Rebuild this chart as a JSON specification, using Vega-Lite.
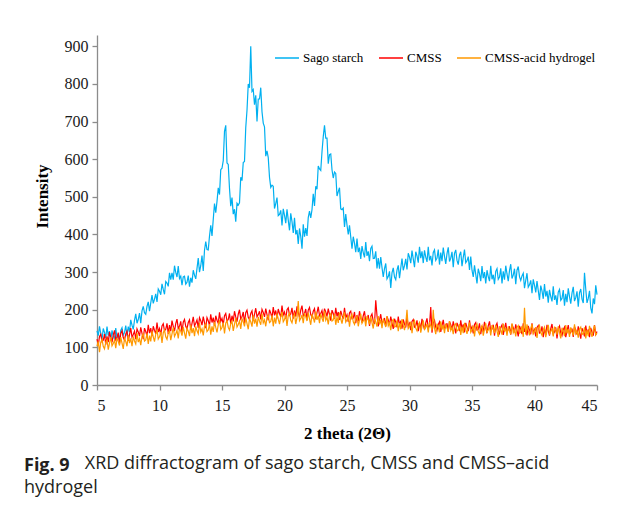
{
"$schema": "https://vega.github.io/schema/vega-lite/v6.json",
"width": 500, "height": 350,
"autosize": {"type": "none"},
"padding": {"left": 97, "top": 35, "right": 31, "bottom": 121},
"background": "white",
"data": {"values": [
{"t":5.0,"s":144,"c":122,"h":103},{"t":5.1,"s":131,"c":105,"h":116},{"t":5.2,"s":156,"c":129,"h":87},{"t":5.3,"s":137,"c":135,"h":113},{"t":5.4,"s":120,"c":115,"h":121},{"t":5.5,"s":150,"c":119,"h":103},{"t":5.6,"s":140,"c":135,"h":96},{"t":5.7,"s":125,"c":107,"h":113},{"t":5.8,"s":155,"c":129,"h":120},{"t":5.9,"s":131,"c":114,"h":94},
{"t":6.0,"s":143,"c":141,"h":111},{"t":6.1,"s":118,"c":126,"h":127},{"t":6.2,"s":145,"c":113,"h":104},{"t":6.3,"s":131,"c":133,"h":110},{"t":6.4,"s":121,"c":145,"h":119},{"t":6.5,"s":151,"c":120,"h":98},{"t":6.6,"s":125,"c":126,"h":125},{"t":6.7,"s":136,"c":139,"h":116},{"t":6.8,"s":118,"c":110,"h":105},{"t":6.9,"s":145,"c":137,"h":127},
{"t":7.0,"s":152,"c":144,"h":111},{"t":7.1,"s":132,"c":126,"h":96},{"t":7.2,"s":139,"c":119,"h":124},{"t":7.3,"s":158,"c":136,"h":116},{"t":7.4,"s":130,"c":143,"h":103},{"t":7.5,"s":155,"c":117,"h":133},{"t":7.6,"s":141,"c":134,"h":111},{"t":7.7,"s":173,"c":151,"h":124},{"t":7.8,"s":159,"c":127,"h":103},{"t":7.9,"s":148,"c":134,"h":129},
{"t":8.0,"s":172,"c":143,"h":117},{"t":8.1,"s":189,"c":122,"h":109},{"t":8.2,"s":164,"c":149,"h":138},{"t":8.3,"s":174,"c":141,"h":114},{"t":8.4,"s":191,"c":130,"h":123},{"t":8.5,"s":164,"c":153,"h":106},{"t":8.6,"s":197,"c":137,"h":130},{"t":8.7,"s":209,"c":122,"h":136},{"t":8.8,"s":192,"c":151,"h":117},{"t":8.9,"s":188,"c":142,"h":120},
{"t":9.0,"s":209,"c":130,"h":137},{"t":9.1,"s":221,"c":160,"h":109},{"t":9.2,"s":196,"c":138,"h":131},{"t":9.3,"s":218,"c":151,"h":116},{"t":9.4,"s":239,"c":130,"h":143},{"t":9.5,"s":217,"c":156,"h":128},{"t":9.6,"s":228,"c":145,"h":115},{"t":9.7,"s":242,"c":136,"h":135},{"t":9.8,"s":221,"c":166,"h":147},{"t":9.9,"s":255,"c":141,"h":122},
{"t":10.0,"s":249,"c":150,"h":128},{"t":10.1,"s":240,"c":133,"h":141},{"t":10.2,"s":269,"c":157,"h":112},{"t":10.3,"s":254,"c":163,"h":139},{"t":10.4,"s":241,"c":144,"h":146},{"t":10.5,"s":275,"c":148,"h":128},{"t":10.6,"s":271,"c":164,"h":121},{"t":10.7,"s":262,"c":136,"h":138},{"t":10.8,"s":298,"c":159,"h":145},{"t":10.9,"s":280,"c":143,"h":119},
{"t":11.0,"s":298,"c":171,"h":136},{"t":11.1,"s":280,"c":156,"h":153},{"t":11.2,"s":317,"c":143,"h":129},{"t":11.3,"s":299,"c":163,"h":136},{"t":11.4,"s":287,"c":175,"h":145},{"t":11.5,"s":316,"c":150,"h":124},{"t":11.6,"s":283,"c":156,"h":151},{"t":11.7,"s":289,"c":169,"h":143},{"t":11.8,"s":265,"c":140,"h":131},{"t":11.9,"s":287,"c":167,"h":154},
{"t":12.0,"s":289,"c":174,"h":138},{"t":12.1,"s":268,"c":156,"h":123},{"t":12.2,"s":273,"c":149,"h":151},{"t":12.3,"s":291,"c":166,"h":143},{"t":12.4,"s":261,"c":173,"h":130},{"t":12.5,"s":285,"c":147,"h":160},{"t":12.6,"s":272,"c":164,"h":138},{"t":12.7,"s":305,"c":181,"h":151},{"t":12.8,"s":292,"c":157,"h":130},{"t":12.9,"s":282,"c":164,"h":156},
{"t":13.0,"s":310,"c":173,"h":144},{"t":13.1,"s":337,"c":152,"h":136},{"t":13.2,"s":300,"c":179,"h":165},{"t":13.3,"s":317,"c":171,"h":141},{"t":13.4,"s":344,"c":159,"h":149},{"t":13.5,"s":303,"c":182,"h":132},{"t":13.6,"s":358,"c":166,"h":156},{"t":13.7,"s":381,"c":151,"h":162},{"t":13.8,"s":360,"c":179,"h":142},{"t":13.9,"s":359,"c":171,"h":146},
{"t":14.0,"s":396,"c":158,"h":162},{"t":14.1,"s":424,"c":188,"h":134},{"t":14.2,"s":396,"c":166,"h":156},{"t":14.3,"s":440,"c":179,"h":141},{"t":14.4,"s":482,"c":158,"h":168},{"t":14.5,"s":458,"c":184,"h":153},{"t":14.6,"s":488,"c":172,"h":140},{"t":14.7,"s":524,"c":164,"h":160},{"t":14.8,"s":506,"c":193,"h":172},{"t":14.9,"s":572,"c":169,"h":147},
{"t":15.0,"s":576,"c":177,"h":153},{"t":15.1,"s":596,"c":160,"h":166},{"t":15.2,"s":674,"c":184,"h":137},{"t":15.3,"s":690,"c":190,"h":164},{"t":15.4,"s":590,"c":170,"h":171},{"t":15.5,"s":586,"c":174,"h":153},{"t":15.6,"s":522,"c":190,"h":146},{"t":15.7,"s":475,"c":162,"h":163},{"t":15.8,"s":498,"c":184,"h":170},{"t":15.9,"s":454,"c":169,"h":144},
{"t":16.0,"s":467,"c":196,"h":161},{"t":16.1,"s":434,"c":181,"h":178},{"t":16.2,"s":483,"c":168,"h":154},{"t":16.3,"s":478,"c":188,"h":161},{"t":16.4,"s":484,"c":200,"h":170},{"t":16.5,"s":552,"c":175,"h":149},{"t":16.6,"s":543,"c":181,"h":176},{"t":16.7,"s":591,"c":194,"h":168},{"t":16.8,"s":594,"c":165,"h":156},{"t":16.9,"s":684,"c":192,"h":179},
{"t":17.0,"s":730,"c":199,"h":163},{"t":17.1,"s":800,"c":180,"h":148},{"t":17.2,"s":790,"c":174,"h":176},{"t":17.3,"s":900,"c":190,"h":168},{"t":17.4,"s":780,"c":197,"h":155},{"t":17.5,"s":785,"c":171,"h":185},{"t":17.6,"s":745,"c":188,"h":163},{"t":17.7,"s":770,"c":204,"h":176},{"t":17.8,"s":700,"c":181,"h":155},{"t":17.9,"s":760,"c":187,"h":181},
{"t":18.0,"s":760,"c":196,"h":169},{"t":18.1,"s":790,"c":174,"h":160},{"t":18.2,"s":726,"c":201,"h":190},{"t":18.3,"s":696,"c":193,"h":165},{"t":18.4,"s":686,"c":181,"h":173},{"t":18.5,"s":608,"c":203,"h":156},{"t":18.6,"s":622,"c":187,"h":180},{"t":18.7,"s":604,"c":172,"h":185},{"t":18.8,"s":552,"c":200,"h":166},{"t":18.9,"s":525,"c":191,"h":169},
{"t":19.0,"s":531,"c":178,"h":185},{"t":19.1,"s":528,"c":207,"h":156},{"t":19.2,"s":469,"c":185,"h":179},{"t":19.3,"s":482,"c":198,"h":163},{"t":19.4,"s":498,"c":177,"h":190},{"t":19.5,"s":450,"c":202,"h":175},{"t":19.6,"s":453,"c":190,"h":162},{"t":19.7,"s":464,"c":181,"h":181},{"t":19.8,"s":424,"c":211,"h":194},{"t":19.9,"s":468,"c":186,"h":168},
{"t":20.0,"s":451,"c":194,"h":174},{"t":20.1,"s":430,"c":176,"h":186},{"t":20.2,"s":467,"c":200,"h":157},{"t":20.3,"s":438,"c":205,"h":184},{"t":20.4,"s":411,"c":185,"h":191},{"t":20.5,"s":456,"c":189,"h":172},{"t":20.6,"s":434,"c":205,"h":165},{"t":20.7,"s":404,"c":176,"h":181},{"t":20.8,"s":444,"c":198,"h":189},{"t":20.9,"s":400,"c":182,"h":162},
{"t":21.0,"s":412,"c":209,"h":179},{"t":21.1,"s":375,"c":193,"h":223},{"t":21.2,"s":416,"c":180,"h":171},{"t":21.3,"s":395,"c":199,"h":177},{"t":21.4,"s":362,"c":211,"h":186},{"t":21.5,"s":427,"c":184,"h":164},{"t":21.6,"s":394,"c":190,"h":191},{"t":21.7,"s":417,"c":202,"h":182},{"t":21.8,"s":396,"c":173,"h":170},{"t":21.9,"s":445,"c":199,"h":192},
{"t":22.0,"s":462,"c":206,"h":176},{"t":22.1,"s":444,"c":187,"h":160},{"t":22.2,"s":466,"c":180,"h":188},{"t":22.3,"s":508,"c":196,"h":179},{"t":22.4,"s":476,"c":203,"h":166},{"t":22.5,"s":528,"c":175,"h":195},{"t":22.6,"s":520,"c":192,"h":173},{"t":22.7,"s":582,"c":208,"h":185},{"t":22.8,"s":574,"c":184,"h":164},{"t":22.9,"s":570,"c":190,"h":189},
{"t":23.0,"s":620,"c":198,"h":177},{"t":23.1,"s":660,"c":176,"h":168},{"t":23.2,"s":690,"c":203,"h":197},{"t":23.3,"s":656,"c":194,"h":172},{"t":23.4,"s":656,"c":182,"h":180},{"t":23.5,"s":588,"c":203,"h":161},{"t":23.6,"s":612,"c":187,"h":185},{"t":23.7,"s":614,"c":171,"h":190},{"t":23.8,"s":572,"c":199,"h":170},{"t":23.9,"s":550,"c":190,"h":173},
{"t":24.0,"s":566,"c":176,"h":189},{"t":24.1,"s":562,"c":205,"h":160},{"t":24.2,"s":502,"c":182,"h":181},{"t":24.3,"s":514,"c":194,"h":165},{"t":24.4,"s":524,"c":173,"h":192},{"t":24.5,"s":468,"c":197,"h":176},{"t":24.6,"s":466,"c":185,"h":163},{"t":24.7,"s":470,"c":176,"h":181},{"t":24.8,"s":420,"c":205,"h":193},{"t":24.9,"s":454,"c":179,"h":167},
{"t":25.0,"s":425,"c":187,"h":173},{"t":25.1,"s":400,"c":168,"h":185},{"t":25.2,"s":424,"c":192,"h":155},{"t":25.3,"s":393,"c":196,"h":181},{"t":25.4,"s":362,"c":176,"h":188},{"t":25.5,"s":394,"c":178,"h":168},{"t":25.6,"s":377,"c":194,"h":161},{"t":25.7,"s":353,"c":164,"h":177},{"t":25.8,"s":389,"c":186,"h":183},{"t":25.9,"s":353,"c":169,"h":156},
{"t":26.0,"s":365,"c":196,"h":173},{"t":26.1,"s":335,"c":179,"h":189},{"t":26.2,"s":369,"c":166,"h":164},{"t":26.3,"s":352,"c":184,"h":170},{"t":26.4,"s":339,"c":196,"h":178},{"t":26.5,"s":380,"c":169,"h":156},{"t":26.6,"s":343,"c":175,"h":183},{"t":26.7,"s":355,"c":186,"h":173},{"t":26.8,"s":329,"c":157,"h":161},{"t":26.9,"s":363,"c":182,"h":182},
{"t":27.0,"s":369,"c":189,"h":166},{"t":27.1,"s":336,"c":169,"h":150},{"t":27.2,"s":337,"c":162,"h":177},{"t":27.3,"s":355,"c":225,"h":168},{"t":27.4,"s":310,"c":184,"h":155},{"t":27.5,"s":337,"c":156,"h":183},{"t":27.6,"s":309,"c":173,"h":161},{"t":27.7,"s":340,"c":188,"h":173},{"t":27.8,"s":312,"c":164,"h":151},{"t":27.9,"s":287,"c":169,"h":176},
{"t":28.0,"s":309,"c":178,"h":164},{"t":28.1,"s":323,"c":156,"h":154},{"t":28.2,"s":282,"c":182,"h":183},{"t":28.3,"s":288,"c":173,"h":157},{"t":28.4,"s":302,"c":160,"h":165},{"t":28.5,"s":258,"c":182,"h":146},{"t":28.6,"s":298,"c":165,"h":170},{"t":28.7,"s":311,"c":149,"h":174},{"t":28.8,"s":287,"c":176,"h":154},{"t":28.9,"s":280,"c":167,"h":156},
{"t":29.0,"s":305,"c":153,"h":172},{"t":29.1,"s":318,"c":182,"h":143},{"t":29.2,"s":284,"c":159,"h":165},{"t":29.3,"s":311,"c":171,"h":148},{"t":29.4,"s":336,"c":150,"h":175},{"t":29.5,"s":305,"c":174,"h":159},{"t":29.6,"s":317,"c":162,"h":146},{"t":29.7,"s":335,"c":153,"h":164},{"t":29.8,"s":307,"c":181,"h":200},{"t":29.9,"s":350,"c":156,"h":150},
{"t":30.0,"s":340,"c":164,"h":156},{"t":30.1,"s":324,"c":146,"h":168},{"t":30.2,"s":357,"c":169,"h":138},{"t":30.3,"s":335,"c":174,"h":164},{"t":30.4,"s":313,"c":154,"h":171},{"t":30.5,"s":354,"c":157,"h":151},{"t":30.6,"s":343,"c":172,"h":144},{"t":30.7,"s":325,"c":143,"h":160},{"t":30.8,"s":367,"c":165,"h":166},{"t":30.9,"s":337,"c":149,"h":139},
{"t":31.0,"s":355,"c":176,"h":156},{"t":31.1,"s":324,"c":160,"h":172},{"t":31.2,"s":358,"c":147,"h":148},{"t":31.3,"s":340,"c":165,"h":153},{"t":31.4,"s":327,"c":177,"h":162},{"t":31.5,"s":367,"c":151,"h":140},{"t":31.6,"s":331,"c":157,"h":167},{"t":31.7,"s":343,"c":207,"h":157},{"t":31.8,"s":318,"c":139,"h":145},{"t":31.9,"s":352,"c":165,"h":200},
{"t":32.0,"s":359,"c":172,"h":151},{"t":32.1,"s":331,"c":153,"h":135},{"t":32.2,"s":337,"c":145,"h":163},{"t":32.3,"s":360,"c":161,"h":154},{"t":32.4,"s":320,"c":168,"h":140},{"t":32.5,"s":352,"c":141,"h":169},{"t":32.6,"s":329,"c":158,"h":147},{"t":32.7,"s":365,"c":173,"h":159},{"t":32.8,"s":342,"c":149,"h":138},{"t":32.9,"s":322,"c":155,"h":163},
{"t":33.0,"s":349,"c":164,"h":151},{"t":33.1,"s":366,"c":142,"h":142},{"t":33.2,"s":328,"c":169,"h":170},{"t":33.3,"s":337,"c":160,"h":145},{"t":33.4,"s":354,"c":148,"h":153},{"t":33.5,"s":313,"c":169,"h":135},{"t":33.6,"s":350,"c":153,"h":159},{"t":33.7,"s":359,"c":137,"h":163},{"t":33.8,"s":331,"c":165,"h":143},{"t":33.9,"s":320,"c":156,"h":146},
{"t":34.0,"s":345,"c":143,"h":162},{"t":34.1,"s":354,"c":172,"h":133},{"t":34.2,"s":316,"c":149,"h":155},{"t":34.3,"s":339,"c":161,"h":138},{"t":34.4,"s":360,"c":140,"h":165},{"t":34.5,"s":325,"c":165,"h":149},{"t":34.6,"s":330,"c":153,"h":136},{"t":34.7,"s":341,"c":143,"h":154},{"t":34.8,"s":306,"c":172,"h":166},{"t":34.9,"s":341,"c":147,"h":140},
{"t":35.0,"s":305,"c":155,"h":146},{"t":35.1,"s":287,"c":137,"h":158},{"t":35.2,"s":318,"c":161,"h":129},{"t":35.3,"s":294,"c":166,"h":155},{"t":35.4,"s":270,"c":146,"h":162},{"t":35.5,"s":309,"c":148,"h":142},{"t":35.6,"s":296,"c":164,"h":135},{"t":35.7,"s":276,"c":135,"h":151},{"t":35.8,"s":316,"c":157,"h":158},{"t":35.9,"s":284,"c":141,"h":131},
{"t":36.0,"s":300,"c":168,"h":148},{"t":36.1,"s":270,"c":152,"h":164},{"t":36.2,"s":305,"c":138,"h":140},{"t":36.3,"s":288,"c":157,"h":146},{"t":36.4,"s":276,"c":169,"h":155},{"t":36.5,"s":317,"c":143,"h":132},{"t":36.6,"s":281,"c":149,"h":159},{"t":36.7,"s":293,"c":160,"h":150},{"t":36.8,"s":268,"c":131,"h":138},{"t":36.9,"s":302,"c":157,"h":160},
{"t":37.0,"s":309,"c":164,"h":144},{"t":37.1,"s":281,"c":145,"h":128},{"t":37.2,"s":287,"c":137,"h":156},{"t":37.3,"s":310,"c":153,"h":147},{"t":37.4,"s":270,"c":160,"h":134},{"t":37.5,"s":302,"c":133,"h":163},{"t":37.6,"s":280,"c":150,"h":141},{"t":37.7,"s":317,"c":165,"h":152},{"t":37.8,"s":295,"c":141,"h":131},{"t":37.9,"s":276,"c":147,"h":156},
{"t":38.0,"s":304,"c":156,"h":144},{"t":38.1,"s":321,"c":134,"h":135},{"t":38.2,"s":283,"c":161,"h":164},{"t":38.3,"s":292,"c":152,"h":139},{"t":38.4,"s":309,"c":140,"h":147},{"t":38.5,"s":268,"c":161,"h":129},{"t":38.6,"s":305,"c":145,"h":153},{"t":38.7,"s":315,"c":129,"h":158},{"t":38.8,"s":288,"c":157,"h":138},{"t":38.9,"s":278,"c":148,"h":141},
{"t":39.0,"s":290,"c":135,"h":157},{"t":39.1,"s":297,"c":164,"h":128},{"t":39.2,"s":257,"c":141,"h":205},{"t":39.3,"s":278,"c":153,"h":134},{"t":39.4,"s":297,"c":132,"h":161},{"t":39.5,"s":260,"c":157,"h":145},{"t":39.6,"s":266,"c":145,"h":132},{"t":39.7,"s":278,"c":135,"h":150},{"t":39.8,"s":244,"c":164,"h":162},{"t":39.9,"s":281,"c":139,"h":136},
{"t":40.0,"s":265,"c":147,"h":142},{"t":40.1,"s":246,"c":129,"h":154},{"t":40.2,"s":276,"c":153,"h":125},{"t":40.3,"s":251,"c":158,"h":151},{"t":40.4,"s":226,"c":138,"h":158},{"t":40.5,"s":264,"c":140,"h":139},{"t":40.6,"s":250,"c":156,"h":132},{"t":40.7,"s":229,"c":127,"h":147},{"t":40.8,"s":268,"c":149,"h":154},{"t":40.9,"s":235,"c":133,"h":127},
{"t":41.0,"s":250,"c":160,"h":144},{"t":41.1,"s":219,"c":144,"h":160},{"t":41.2,"s":253,"c":131,"h":136},{"t":41.3,"s":235,"c":150,"h":142},{"t":41.4,"s":222,"c":162,"h":151},{"t":41.5,"s":262,"c":136,"h":129},{"t":41.6,"s":226,"c":141,"h":155},{"t":41.7,"s":238,"c":153,"h":146},{"t":41.8,"s":213,"c":124,"h":134},{"t":41.9,"s":247,"c":150,"h":156},
{"t":42.0,"s":254,"c":157,"h":140},{"t":42.1,"s":225,"c":138,"h":124},{"t":42.2,"s":230,"c":131,"h":152},{"t":42.3,"s":252,"c":147,"h":143},{"t":42.4,"s":211,"c":154,"h":130},{"t":42.5,"s":242,"c":127,"h":159},{"t":42.6,"s":220,"c":143,"h":137},{"t":42.7,"s":257,"c":159,"h":149},{"t":42.8,"s":235,"c":135,"h":128},{"t":42.9,"s":216,"c":141,"h":153},
{"t":43.0,"s":244,"c":150,"h":141},{"t":43.1,"s":261,"c":128,"h":132},{"t":43.2,"s":223,"c":155,"h":161},{"t":43.3,"s":232,"c":146,"h":136},{"t":43.4,"s":249,"c":134,"h":144},{"t":43.5,"s":208,"c":156,"h":126},{"t":43.6,"s":245,"c":140,"h":149},{"t":43.7,"s":255,"c":123,"h":154},{"t":43.8,"s":228,"c":151,"h":134},{"t":43.9,"s":218,"c":142,"h":137},
{"t":44.0,"s":298,"c":129,"h":153},{"t":44.1,"s":255,"c":158,"h":124},{"t":44.2,"s":218,"c":136,"h":146},{"t":44.3,"s":230,"c":148,"h":130},{"t":44.4,"s":250,"c":127,"h":157},{"t":44.5,"s":205,"c":152,"h":141},{"t":44.6,"s":190,"c":140,"h":128},{"t":44.7,"s":230,"c":131,"h":147},{"t":44.8,"s":215,"c":159,"h":158},{"t":44.9,"s":265,"c":134,"h":133},
{"t":45.0,"s":240,"c":142,"h":138}
]},
"transform": [{"fold": ["s", "c", "h"], "as": ["series", "intensity"]}],
"title": {
  "text": "Fig. 9",
  "subtitle": ["\u200b\u00a0\u00a0\u00a0\u00a0\u00a0\u00a0\u00a0\u00a0\u00a0\u00a0\u00a0\u00a0\u00a0XRD diffractogram of sago starch, CMSS and CMSS\u2013acid", "hydrogel"],
  "orient": "bottom", "anchor": "start", "frame": "group",
  "dx": -73, "offset": 16,
  "font": "Open Sans", "fontSize": 18, "fontWeight": "bold", "color": "#231f20",
  "subtitleFont": "Open Sans", "subtitleFontSize": 18, "subtitleFontWeight": "normal", "subtitleColor": "#231f20",
  "subtitlePadding": -20, "lineHeight": 24, "subtitleLineHeight": 24
},
"encoding": {
  "x": {"field": "t", "type": "quantitative",
        "scale": {"domain": [5, 45], "nice": false, "zero": false},
        "axis": {"values": [5,10,15,20,25,30,35,40,45], "labelPadding": 7, "title": "2 theta (2\u0398)", "titleY": 48, "titleBaseline": "middle"}},
  "y": {"field": "intensity", "type": "quantitative",
        "scale": {"domain": [0, 930], "nice": false},
        "axis": {"values": [0,100,200,300,400,500,600,700,800,900], "title": "Intensity",
                 "titleX": -55, "titleY": 161, "titleAngle": 270, "titleAlign": "center", "titleBaseline": "middle"}},
  "color": {"field": "series", "type": "nominal",
            "scale": {"domain": ["s", "c", "h"], "range": ["#00b0f0", "#ff0000", "#ff9900"]},
            "legend": {"title": null, "orient": "none", "legendX": 177, "legendY": 10, "direction": "horizontal",
                       "symbolType": "stroke", "symbolSize": 576, "symbolStrokeWidth": 1.5,
                       "labelFont": "Liberation Serif", "labelFontSize": 13, "labelColor": "#000000",
                       "labelOffset": 3, "columnPadding": 12,
                       "labelExpr": "datum.label == 's' ? 'Sago starch\u00a0\u00a0\u00a0' : datum.label == 'c' ? 'CMSS' : 'CMSS-acid hydrogel'"}}
},
"layer": [
  {"transform": [{"filter": "datum.series == 's'"}], "mark": {"type": "line", "strokeWidth": 1.2}},
  {"transform": [{"filter": "datum.series == 'c'"}], "mark": {"type": "line", "strokeWidth": 1.2}},
  {"transform": [{"filter": "datum.series == 'h'"}], "mark": {"type": "line", "strokeWidth": 1.2}}
],
"config": {
  "view": {"stroke": null},
  "axis": {"grid": false, "domainColor": "#8c8c8c", "domainWidth": 1.3, "tickColor": "#8c8c8c", "tickSize": 5, "tickWidth": 1.3,
           "labelFont": "Liberation Serif", "labelFontSize": 16, "labelColor": "#1a1a1a", "labelPadding": 4,
           "titleFont": "Liberation Serif", "titleFontSize": 17, "titleFontWeight": "bold", "titleColor": "#000000"}
}
}
